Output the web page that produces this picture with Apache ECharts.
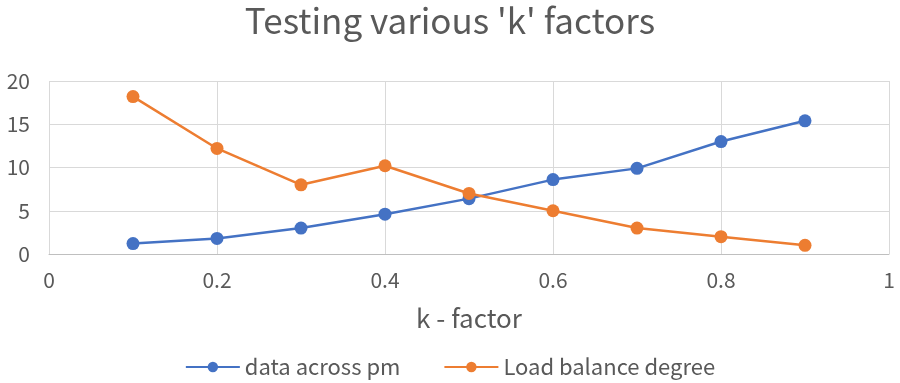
<!DOCTYPE html>
<html>
<head>
<meta charset="utf-8">
<script src="https://cdn.jsdelivr.net/npm/echarts@6/dist/echarts.min.js"></script>
<style>
  html, body { margin: 0; padding: 0; background: #fff; }
  #chart { width: 900px; height: 383px; }
</style>
</head>
<body>
<div id="chart"></div>
<script>
// k factor values on the x axis
const kValues = [0.1, 0.2, 0.3, 0.4, 0.5, 0.6, 0.7, 0.8, 0.9];
const dataAcrossPm = [1.2, 1.8, 3, 4.6, 6.4, 8.6, 9.9, 13, 15.4];
const loadBalance = [18.2, 12.2, 8, 10.2, 7, 5, 3, 2, 1];
const seriesNames = ["data across pm", "Load balance degree"];

const font = '"Noto Sans CJK SC", "Noto Sans", sans-serif';
const textColor = "#595959";

function pairs(ys) {
  return kValues.map((k, i) => [k, ys[i]]);
}

const myChart = echarts.init(document.getElementById("chart"));
const option = {
  animation: false,
  backgroundColor: "#fff",
  title: {
    text: "Testing various 'k' factors",
    left: "center",
    top: -2,
    textStyle: { fontFamily: font, fontSize: 35, fontWeight: "normal", color: textColor },
  },
  legend: {
    top: 351,
    left: "center",
    itemWidth: 54,
    itemHeight: 13,
    itemGap: 43,
    textStyle: { fontFamily: font, fontSize: 22, color: textColor },
    data: seriesNames,
  },
  grid: { left: 49, right: 11, top: 81, bottom: 129 },
  xAxis: {
    type: "value",
    min: 0,
    max: 1,
    interval: 0.2,
    name: "k - factor",
    nameLocation: "middle",
    nameGap: 51,
    nameTextStyle: { fontFamily: font, fontSize: 26, color: textColor },
    axisLine: { show: true, lineStyle: { color: "#bfbfbf", width: 1 } },
    axisTick: { show: false },
    axisLabel: { fontFamily: font, fontSize: 21, color: textColor, margin: 16 },
    splitLine: { show: true, lineStyle: { color: "#d9d9d9" } },
  },
  yAxis: {
    type: "value",
    min: 0,
    max: 20,
    interval: 5,
    axisLine: { show: false },
    axisTick: { show: false },
    axisLabel: { fontFamily: font, fontSize: 21, color: textColor, margin: 19 },
    splitLine: { show: true, lineStyle: { color: "#d9d9d9" } },
  },
  series: [
    {
      name: seriesNames[0],
      type: "line",
      data: pairs(dataAcrossPm),
      symbol: "circle",
      symbolSize: 13,
      itemStyle: { color: "#4472C4" },
      lineStyle: { color: "#4472C4", width: 2.5 },
    },
    {
      name: seriesNames[1],
      type: "line",
      data: pairs(loadBalance),
      symbol: "circle",
      symbolSize: 13,
      itemStyle: { color: "#ED7D31" },
      lineStyle: { color: "#ED7D31", width: 2.5 },
    },
  ],
};
option && myChart.setOption(option, true);
</script>
</body>
</html>
